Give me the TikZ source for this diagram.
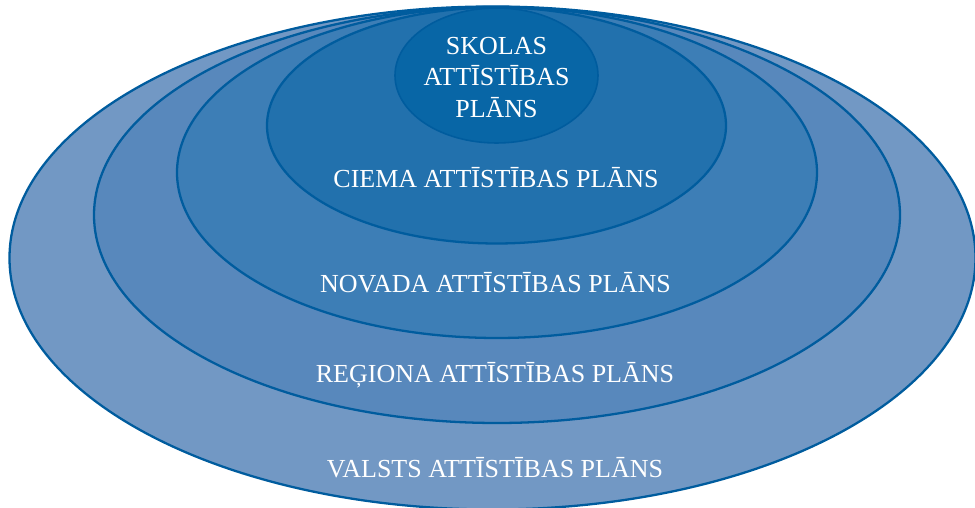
\documentclass[tikz,border=0pt]{standalone}
\usepackage{fontspec}
\setmainfont{Liberation Serif}
\usepackage{tikz}
\usetikzlibrary{positioning}
\definecolor{rimblue}{HTML}{005C9E}
\definecolor{valstsblue}{HTML}{7298C4}
\definecolor{regionablue}{HTML}{5888BC}
\definecolor{novadablue}{HTML}{3D7EB6}
\definecolor{ciemablue}{HTML}{2271AD}
\definecolor{skolasblue}{HTML}{0866A6}
\tikzset{
  ring/.style={draw=rimblue, line width=1.3pt},
  planlabel/.style={text=white, font=\fontsize{14.8pt}{17.8pt}\selectfont, align=center}
}

\begin{document}
\begin{tikzpicture}
    \useasboundingbox (0,0) rectangle (19.5,10.16);

    % nested plans, largest first
    \filldraw[ring, fill=valstsblue] (9.85,5.0) ellipse (9.66 and 5.03);
    \filldraw[ring, fill=regionablue] (9.94,5.86) ellipse (8.06 and 4.16);
    \filldraw[ring, fill=novadablue] (9.94,6.71) ellipse (6.40 and 3.31);
    \filldraw[ring, fill=ciemablue] (9.93,7.65) ellipse (4.59 and 2.36);
    \filldraw[ring, line width=0.9pt, fill=skolasblue] (9.93,8.65) ellipse (2.03 and 1.35);

    \node[planlabel, anchor=base] (valsts) at (9.9,0.60) {VALSTS ATTĪSTĪBAS PLĀNS};
    \node[planlabel, anchor=base] (regiona) at (9.9,2.50) {REĢIONA ATTĪSTĪBAS PLĀNS};
    \node[planlabel, anchor=base] (novada) at (9.91,4.30) {NOVADA ATTĪSTĪBAS PLĀNS};
    \node[planlabel, anchor=base] (ciema) at (9.92,6.40) {CIEMA ATTĪSTĪBAS PLĀNS};
    \node[planlabel] (skolas) at (9.93,8.61) {SKOLAS\\ATTĪSTĪBAS\\PLĀNS};
\end{tikzpicture}
\end{document}
